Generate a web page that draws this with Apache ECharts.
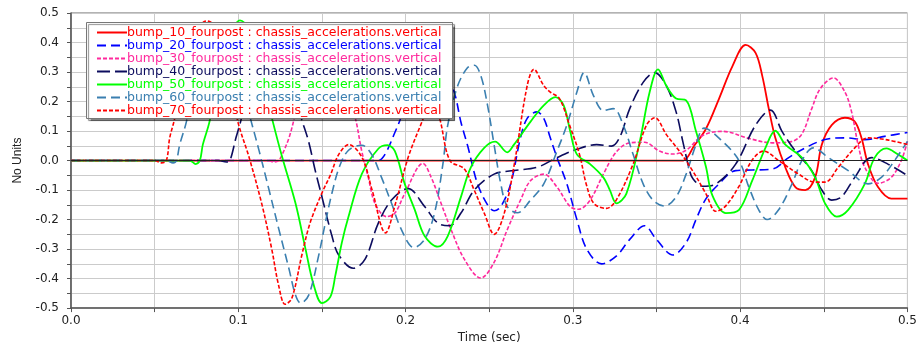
<!DOCTYPE html>
<html>
<head>
<meta charset="utf-8">
<script src="https://cdn.jsdelivr.net/npm/echarts/dist/echarts.min.js"></script>
<style>
html,body{margin:0;padding:0;background:#fff;}
#chart{width:920px;height:349px;}
</style>
</head>
<body>
<div id="chart"></div>
<script>
// ---- data (time in sec, value in "No Units") ----
const seriesNames = [
  'bump_10_fourpost : chassis_accelerations.vertical',
  'bump_20_fourpost : chassis_accelerations.vertical',
  'bump_30_fourpost : chassis_accelerations.vertical',
  'bump_40_fourpost : chassis_accelerations.vertical',
  'bump_50_fourpost : chassis_accelerations.vertical',
  'bump_60_fourpost : chassis_accelerations.vertical',
  'bump_70_fourpost : chassis_accelerations.vertical'
];

const bump10 = [[0,0],[0.362,0],[0.366,0.0],[0.3725,0.05],[0.3795,0.107],[0.3874,0.21],[0.3954,0.32],[0.4033,0.392],[0.4092,0.365],[0.4132,0.287],[0.4171,0.176],[0.421,0.077],[0.427,-0.023],[0.433,-0.09],[0.4389,-0.1],[0.4448,-0.057],[0.4488,0.054],[0.4547,0.12],[0.4626,0.145],[0.4685,0.132],[0.4725,0.077],[0.4764,-0.012],[0.4824,-0.09],[0.4903,-0.129],[0.5,-0.129]];

const bump20 = [[0,0],[0.18,0],[0.1837,0.0],[0.1877,0.021],[0.1936,0.095],[0.1975,0.15],[0.203,0.25],[0.209,0.32],[0.215,0.34],[0.221,0.31],[0.2255,0.27],[0.2292,0.23],[0.2331,0.13],[0.2371,0.05],[0.243,-0.079],[0.249,-0.15],[0.2529,-0.17],[0.2569,-0.156],[0.2628,-0.079],[0.2687,0.077],[0.2727,0.143],[0.2786,0.165],[0.2826,0.143],[0.2865,0.077],[0.2905,0.01],[0.2964,-0.079],[0.3024,-0.2],[0.3083,-0.3],[0.3172,-0.35],[0.3261,-0.323],[0.334,-0.267],[0.3429,-0.221],[0.3499,-0.267],[0.3598,-0.32],[0.3677,-0.278],[0.3736,-0.2],[0.3795,-0.13],[0.3874,-0.079],[0.3973,-0.034],[0.4072,-0.032],[0.4191,-0.029],[0.429,0.01],[0.4389,0.043],[0.4507,0.071],[0.4626,0.077],[0.4745,0.071],[0.4863,0.082],[0.5,0.095]];

const bump30 = [[0,0],[0.118,0],[0.121,-0.005],[0.124,0.0],[0.1263,0.021],[0.1303,0.077],[0.1332,0.137],[0.138,0.25],[0.144,0.35],[0.15,0.39],[0.156,0.36],[0.162,0.28],[0.166,0.21],[0.17,0.143],[0.1738,0.032],[0.1777,-0.057],[0.1817,-0.145],[0.1886,-0.19],[0.1936,-0.178],[0.1995,-0.112],[0.2104,-0.01],[0.2153,-0.057],[0.2212,-0.145],[0.2272,-0.234],[0.2351,-0.334],[0.245,-0.398],[0.2529,-0.345],[0.2608,-0.234],[0.2687,-0.134],[0.2747,-0.068],[0.2826,-0.046],[0.2905,-0.09],[0.2984,-0.156],[0.3034,-0.165],[0.3103,-0.134],[0.3182,-0.046],[0.3261,0.03],[0.334,0.06],[0.3429,0.062],[0.3518,0.032],[0.3598,0.022],[0.3677,0.035],[0.3776,0.085],[0.3894,0.099],[0.4052,0.075],[0.4191,0.06],[0.431,0.065],[0.4369,0.09],[0.4428,0.176],[0.4478,0.243],[0.4557,0.28],[0.4626,0.232],[0.4666,0.165],[0.4705,0.054],[0.4745,-0.023],[0.4824,-0.077],[0.4903,-0.057],[0.4963,0.0],[0.5,0.065]];

const bump40 = [[0,0],[0.088,0],[0.093,-0.005],[0.095,0.0],[0.0986,0.077],[0.1016,0.137],[0.106,0.25],[0.112,0.36],[0.119,0.40],[0.126,0.36],[0.132,0.25],[0.138,0.137],[0.142,0.065],[0.146,-0.034],[0.15,-0.123],[0.156,-0.256],[0.16,-0.32],[0.1688,-0.365],[0.1758,-0.334],[0.1837,-0.212],[0.1916,-0.134],[0.2015,-0.095],[0.2114,-0.156],[0.2193,-0.212],[0.2262,-0.221],[0.2331,-0.178],[0.2411,-0.1],[0.2529,-0.046],[0.2648,-0.034],[0.2786,-0.023],[0.2905,0.01],[0.3024,0.038],[0.3142,0.054],[0.3231,0.049],[0.3281,0.08],[0.334,0.176],[0.342,0.265],[0.3489,0.298],[0.3558,0.254],[0.3617,0.165],[0.3657,0.065],[0.3696,-0.03],[0.3716,-0.06],[0.3776,-0.087],[0.3855,-0.079],[0.3973,-0.012],[0.4092,0.12],[0.4181,0.171],[0.425,0.099],[0.433,0.032],[0.4428,-0.034],[0.4488,-0.1],[0.4547,-0.134],[0.4606,-0.123],[0.4685,-0.057],[0.4784,0.01],[0.4883,-0.012],[0.5,-0.051]];

const bump50 = [[0,0],[0.071,0],[0.0745,-0.012],[0.077,0.0],[0.0788,0.054],[0.0828,0.132],[0.087,0.26],[0.092,0.38],[0.097,0.45],[0.101,0.475],[0.106,0.45],[0.111,0.36],[0.116,0.24],[0.1204,0.137],[0.1263,0.01],[0.1342,-0.145],[0.1402,-0.3],[0.1451,-0.422],[0.15,-0.483],[0.155,-0.462],[0.158,-0.39],[0.1619,-0.278],[0.1659,-0.19],[0.1738,-0.046],[0.1837,0.04],[0.1891,0.052],[0.1936,0.032],[0.1995,-0.079],[0.2055,-0.167],[0.2114,-0.256],[0.2193,-0.292],[0.2252,-0.256],[0.2331,-0.123],[0.239,-0.023],[0.247,0.043],[0.2535,0.064],[0.2608,0.028],[0.2648,0.054],[0.2747,0.132],[0.2826,0.187],[0.2895,0.215],[0.2945,0.187],[0.2984,0.099],[0.3024,0.021],[0.3103,-0.012],[0.3182,-0.057],[0.3221,-0.1],[0.3261,-0.145],[0.332,-0.112],[0.34,0.065],[0.3459,0.232],[0.3509,0.309],[0.3558,0.254],[0.3617,0.21],[0.3677,0.204],[0.3736,0.099],[0.3795,-0.02],[0.3835,-0.12],[0.3914,-0.178],[0.3993,-0.167],[0.4072,-0.068],[0.4151,0.043],[0.421,0.101],[0.427,0.054],[0.4369,0.01],[0.4448,-0.057],[0.4507,-0.145],[0.4577,-0.19],[0.4646,-0.167],[0.4745,-0.079],[0.4804,0.01],[0.4874,0.041],[0.4943,0.021],[0.5,0.0]];

const bump60 = [[0,0],[0.057,0],[0.061,-0.008],[0.063,0.0],[0.065,0.054],[0.069,0.132],[0.074,0.27],[0.08,0.38],[0.086,0.43],[0.092,0.41],[0.098,0.33],[0.1035,0.22],[0.1075,0.137],[0.1125,0.032],[0.1184,-0.1],[0.1243,-0.234],[0.1303,-0.367],[0.1342,-0.456],[0.1372,-0.483],[0.1421,-0.456],[0.148,-0.323],[0.152,-0.212],[0.156,-0.11],[0.1605,-0.02],[0.1659,0.035],[0.1738,0.052],[0.1797,0.021],[0.1856,-0.057],[0.1916,-0.145],[0.1975,-0.234],[0.205,-0.295],[0.2114,-0.267],[0.2173,-0.178],[0.2223,-0.012],[0.2252,0.12],[0.2312,0.254],[0.2371,0.315],[0.2411,0.323],[0.245,0.287],[0.249,0.187],[0.2529,0.054],[0.2569,-0.079],[0.2608,-0.156],[0.2668,-0.177],[0.2747,-0.134],[0.2826,-0.079],[0.2905,0.032],[0.2964,0.12],[0.3024,0.232],[0.3067,0.298],[0.3123,0.22],[0.3182,0.17],[0.3242,0.176],[0.3301,0.12],[0.336,0.021],[0.342,-0.079],[0.3479,-0.134],[0.3548,-0.154],[0.3617,-0.123],[0.3677,-0.046],[0.3736,0.054],[0.3785,0.11],[0.3894,0.065],[0.3993,0.0],[0.4052,-0.09],[0.4111,-0.167],[0.4161,-0.2],[0.423,-0.167],[0.431,-0.079],[0.4369,0.0],[0.4438,0.043],[0.4527,0.01],[0.4646,-0.034],[0.4764,-0.079],[0.4844,-0.057],[0.4923,0.0],[0.5,0.065]];

const bump70 = [[0,0],[0.05,0],[0.054,-0.008],[0.057,0.0],[0.059,0.077],[0.062,0.143],[0.066,0.26],[0.07,0.36],[0.075,0.44],[0.081,0.473],[0.087,0.45],[0.093,0.33],[0.0995,0.137],[0.1065,0.01],[0.114,-0.146],[0.12,-0.3],[0.124,-0.42],[0.128,-0.487],[0.132,-0.467],[0.138,-0.32],[0.143,-0.21],[0.15,-0.11],[0.155,-0.05],[0.16,0.02],[0.166,0.054],[0.174,0.01],[0.18,-0.1],[0.188,-0.245],[0.194,-0.145],[0.2015,0.01],[0.209,0.12],[0.213,0.17],[0.217,0.19],[0.2205,0.14],[0.2265,0.0],[0.235,-0.028],[0.241,-0.1],[0.247,-0.178],[0.253,-0.25],[0.259,-0.178],[0.265,-0.012],[0.2727,0.254],[0.2767,0.309],[0.2826,0.254],[0.2865,0.232],[0.292,0.21],[0.298,0.12],[0.304,0.02],[0.308,-0.08],[0.3125,-0.145],[0.32,-0.162],[0.326,-0.133],[0.336,-0.012],[0.344,0.12],[0.349,0.145],[0.356,0.087],[0.3635,0.033],[0.3716,-0.035],[0.3795,-0.112],[0.3855,-0.172],[0.391,-0.156],[0.399,-0.09],[0.407,0.0],[0.414,0.032],[0.423,0.0],[0.4347,-0.045],[0.4448,-0.073],[0.4507,-0.073],[0.4586,-0.023],[0.4685,0.043],[0.4764,0.077],[0.488,0.07],[0.5,0.054]];

const xTicks = ['0.0','0.1','0.2','0.3','0.4','0.5'];
const yTicks = ['-0.5','-0.4','-0.3','-0.2','-0.1','0.0','0.1','0.2','0.3','0.4','0.5'];

// ---- styles ----
const allData = [bump10, bump20, bump30, bump40, bump50, bump60, bump70];
const colors = ['#ff0000', '#0000ff', '#ff2a9d', '#0c0c5e', '#00ff00', '#3a7fb0', '#ff0000'];
const dashes = ['solid', [9, 5], [4, 2], [13, 5], 'solid', [9, 5], [4, 2]];
const widths = [1.8, 1.6, 1.6, 1.6, 1.8, 1.6, 1.6];

const fmt = v => {
  const k = Math.round(v * 20);
  if (k % 2 !== 0) return '';
  return (k / 20).toFixed(1);
};

const chart = echarts.init(document.getElementById('chart'), null, {renderer: 'canvas'});

const series = allData.map((d, i) => {
  const s = {
    name: seriesNames[i],
    type: 'line',
    data: d,
    smooth: 0.35,
    symbol: 'none',
    z: 2,
    lineStyle: {color: colors[i], width: widths[i], type: dashes[i]},
    itemStyle: {color: colors[i]},
    animation: false
  };
  if (i === 0) {
    s.markLine = {
      silent: true, symbol: 'none', label: {show: false},
      lineStyle: {color: '#222', width: 1, type: 'solid'},
      data: [{yAxis: 0}], animation: false
    };
  }
  return s;
});

chart.setOption({
  animation: false,
  backgroundColor: '#ffffff',
  grid: {left: 71, right: 7, top: 13, bottom: 36, show: true, borderColor: '#666', borderWidth: 1},
  graphic: [{
    type: 'rect', left: 86, top: 22, z: 50, zlevel: 0, silent: true,
    shape: {width: 366, height: 96},
    style: {fill: '#ffffff', stroke: '#777', lineWidth: 1,
            shadowColor: 'rgba(0,0,0,0.45)', shadowOffsetX: 2, shadowOffsetY: 2, shadowBlur: 1}
  }],
  legend: {
    zlevel: 1, z: 60,
    orient: 'vertical', left: 86, top: 22, align: 'left',
    padding: [4, 6, 2, 10],
    itemWidth: 30, itemHeight: 10, itemGap: 0,
    backgroundColor: 'transparent', borderWidth: 0,
    selectedMode: false,
    itemStyle: {opacity: 0},
    textStyle: {fontFamily: 'DejaVu Sans', fontSize: 12.5, lineHeight: 13, padding: [0, 0, 0, -5]},
    data: seriesNames.map((n, i) => ({name: n, textStyle: {color: colors[i]}}))
  },
  xAxis: {
    type: 'value', min: 0, max: 0.5, interval: 0.05,
    name: 'Time (sec)', nameLocation: 'middle', nameGap: 23,
    nameTextStyle: {fontFamily: 'DejaVu Sans', fontSize: 12, color: '#222'},
    axisLine: {show: true, onZero: false, lineStyle: {color: '#555', width: 1.5}},
    axisTick: {show: true, inside: false, length: 4, lineStyle: {color: '#555'}},
    axisLabel: {formatter: fmt, margin: 7, fontFamily: 'DejaVu Sans', fontSize: 12, color: '#222', showMaxLabel: true, showMinLabel: true, hideOverlap: false},
    splitLine: {show: true, lineStyle: {color: '#cbcbcb', width: 1}}
  },
  yAxis: {
    type: 'value', min: -0.5, max: 0.5, interval: 0.05,
    name: 'No Units', nameLocation: 'middle', nameGap: 47,
    nameTextStyle: {fontFamily: 'Liberation Sans', fontSize: 12, color: '#222'},
    axisLine: {show: true, onZero: false, lineStyle: {color: '#555', width: 1.5}},
    axisTick: {show: true, inside: false, length: 4, lineStyle: {color: '#555'}},
    axisLabel: {formatter: fmt, margin: 12, fontFamily: 'DejaVu Sans', fontSize: 12, color: '#222', showMaxLabel: true, showMinLabel: true},
    splitLine: {show: true, lineStyle: {color: '#cbcbcb', width: 1}}
  },
  series: series
});
</script>
</body>
</html>
